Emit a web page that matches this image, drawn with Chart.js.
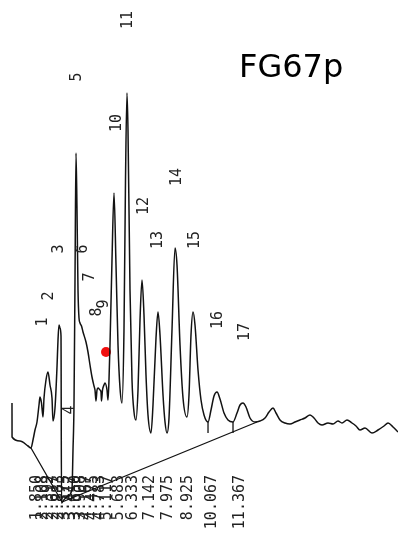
<!DOCTYPE html>
<html><head><meta charset="utf-8">
<script src="https://cdn.jsdelivr.net/npm/chart.js@4"></script>
<style>html,body{margin:0;padding:0;background:#fff}#wrap{width:398px;height:533px;position:relative}</style>
</head><body><div id="wrap"><canvas id="c"></canvas></div>
<script>
// Chromatogram trace: retention time (min) and detector signal (arbitrary units)
const traceTime = [0.663,0.666,1.039,1.414,1.555,1.649,1.743,1.837,1.931,1.978,2.048,2.119,2.166,2.259,2.353,2.447,2.541,2.588,2.682,2.776,2.823,2.870,2.917,2.964,2.987,3.058,3.292,3.480,3.527,3.574,3.621,3.668,3.715,3.762,3.809,3.856,3.926,3.997,4.137,4.231,4.325,4.419,4.513,4.560,4.607,4.654,4.701,4.795,4.842,4.865,4.912,4.982,5.029,5.123,5.170,5.217,5.264,5.358,5.452,5.546,5.640,5.734,5.827,5.921,5.992,6.062,6.109,6.203,6.297,6.391,6.485,6.579,6.673,6.767,6.860,6.954,7.048,7.189,7.283,7.424,7.518,7.612,7.753,7.847,7.941,8.034,8.175,8.316,8.410,8.551,8.692,8.879,8.973,9.067,9.162,9.255,9.396,9.537,9.678,9.866,10.006,10.147,10.288,10.429,10.617,10.804,11.039,11.227,11.368,11.508,11.649,11.837,12.072,12.306,12.541,12.729,12.917,13.058,13.245,13.480,13.715,13.950,14.184,14.419,14.654,14.842,15.030,15.217,15.499,15.734,15.968,16.156,16.391,16.626,16.813,17.001,17.236,17.564,17.846,18.128,18.316,18.551,18.785];
const traceSignal = [18,9.5,8.5,7.25,6.75,8.75,11.25,13.25,17.5,19.5,18,14.5,19.25,23.75,25.75,22.5,19.25,13.5,16.75,27,33.75,37.5,36.75,34.75,-7,-6.5,-5.25,-3.5,6.25,17.5,48.75,80.5,66.25,46.25,39.25,38,37.25,35.75,33.25,30.75,27.5,24.5,22.25,21.25,18.5,21.25,21.75,21.25,20.75,18.5,21.25,22.5,23,21.25,18.75,23.75,32.5,53.75,70.5,52.5,32.5,21.75,18,36.25,73.75,95.5,86.25,46.25,23.75,15.75,13.75,21.25,38.75,48.75,40,25,15,10.5,17.5,34.25,40.75,35,20,13.25,10.5,14.25,36.25,56.75,52.5,32.5,19.25,14.5,20,35,40.75,37.5,26.25,18.75,15,13.25,16.25,19.75,20.75,19,15.5,13.75,13.25,15.5,17.5,18,17,14.25,13.25,13.5,14.25,15.75,16.75,15.5,13.75,13,12.75,13.25,13.75,14.25,15,14.25,13,12.5,13,12.75,13.5,13,13.75,13,12.25,11.25,11.75,10.5,11.25,12.25,13,12,10.75];

// Integrator baseline
const baselineTime = [1.555, 3.011, 12.165];
const baselineSignal = [6.75, -6.75, 13.25];

// Peak-separation drop marks
const dropTime = [9.866, 11.039];
const dropTop = [13.25, 13.25];
const dropBottom = [10.5, 10.5];

// Printed retention times (tick labels)
const retentionLabels = ["1.850","2.108","2.392","2.617","2.883","3.175","3.417","3.650","3.908","4.167","4.475","4.783","5.117","5.683","6.333","7.142","7.975","8.925","10.067","11.367"];

// Peak numbers and where they are printed
const peakNumbers = ["1","2","3","4","5","6","7","8","9","10","11","12","13","14","15","16","17"];
const peakLabelTime = [2.119,2.400,2.870,3.386,3.715,3.997,4.325,4.654,4.982,5.593,6.109,6.860,7.518,8.410,9.255,10.335,11.602];
const peakLabelSignal = [38.25,44.75,56.5,16.25,99.5,56.5,49.5,40.75,42.75,88,113.75,67.25,58.75,74.5,58.75,38.75,35.75];

// Red marker
const markerTime = [5.076];
const markerSignal = [30.75];

const sampleName = "FG67p";

const traceData = traceTime.map((t, i) => ({x: t, y: traceSignal[i]}));
const baseData = baselineTime.map((t, i) => ({x: t, y: baselineSignal[i]}));
const retentionValues = retentionLabels.map(Number);

const ink = '#121212';
const datasets = [
  {data: traceData, borderColor: ink, borderWidth: 1.5, pointRadius: 0, clip: false, cubicInterpolationMode: 'monotone'},
  {data: baseData, borderColor: ink, borderWidth: 1.3, pointRadius: 0, clip: false, tension: 0}
];
dropTime.forEach((t, i) => {
  datasets.push({data: [{x: t, y: dropTop[i]}, {x: t, y: dropBottom[i]}], borderColor: ink, borderWidth: 1.3, pointRadius: 0, clip: false});
});
datasets.push({data: markerTime.map((t, i) => ({x: t, y: markerSignal[i]})), showLine: false, pointRadius: 5, pointBackgroundColor: '#f01010', pointBorderWidth: 0, clip: false});

const labelPlugin = {
  id: 'labels',
  afterDatasetsDraw(chart) {
    const {ctx, scales: {x, y}} = chart;
    ctx.save();
    ctx.font = '15px "DejaVu Sans Mono"';
    ctx.fillStyle = '#222';
    ctx.textAlign = 'center';
    ctx.textBaseline = 'middle';
    peakNumbers.forEach((n, i) => {
      const px = x.getPixelForValue(peakLabelTime[i]);
      const py = y.getPixelForValue(peakLabelSignal[i]);
      ctx.save();
      ctx.translate(px, py);
      ctx.rotate(-Math.PI / 2);
      ctx.fillText(n, 0, 0);
      ctx.restore();
    });
    ctx.font = '32px "DejaVu Sans"';
    ctx.fillStyle = '#000';
    ctx.textAlign = 'left';
    ctx.textBaseline = 'alphabetic';
    ctx.fillText(sampleName, 239, 77);
    ctx.restore();
  }
};

new Chart(document.getElementById('c'), {
  type: 'line',
  data: {datasets},
  options: {
    animation: false,
    responsive: true,
    maintainAspectRatio: false,
    layout: {padding: 0, autoPadding: false},
    plugins: {legend: {display: false}, tooltip: {enabled: false}},
    scales: {
      x: {
        type: 'linear',
        min: 0.1,
        max: 18.785,
        grid: {display: false, drawTicks: false},
        border: {display: false},
        afterBuildTicks: s => { s.ticks = retentionValues.map(v => ({value: v})); },
        afterFit: s => { s.height = 58; s.paddingLeft = 0; s.paddingRight = 0; },
        ticks: {
          autoSkip: false,
          minRotation: 90,
          maxRotation: 90,
          padding: 0,
          color: '#222',
          font: {family: '"DejaVu Sans Mono"', size: 15},
          callback: (v, i) => retentionLabels[i]
        }
      },
      y: {display: false, min: 0, max: 118.75}
    }
  },
  plugins: [labelPlugin]
});
</script>
</body></html>
